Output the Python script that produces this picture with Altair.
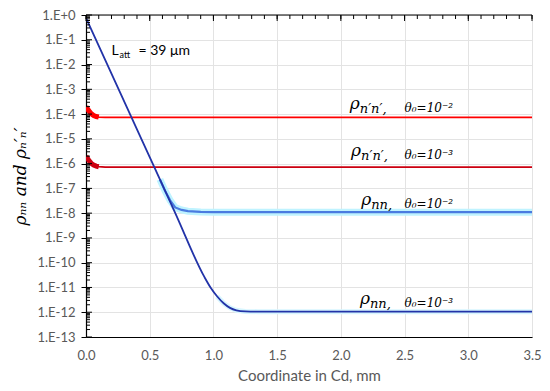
import altair as alt
import pandas as pd

# ---- data ----
# rho_nn, theta0 = 1e-3 (dark blue, incl. the exponential attenuation)
x_nn3 = [0.0, 0.357, 0.536, 0.697, 0.93, 0.98, 1.03, 1.08, 1.13, 1.18, 1.25, 1.35, 3.5]
y_nn3 = [0.76, 7.4e-5, 7.2e-7, 1.1e-8, 2.6e-11, 9.5e-12, 4.3e-12, 2.3e-12, 1.5e-12, 1.2e-12, 1.08e-12, 1.05e-12, 1.05e-12]
# rho_nn, theta0 = 1e-2 (light blue)
x_nn2 = [0.58, 0.62, 0.66, 0.70, 0.75, 0.80, 0.90, 1.0, 3.5]
y_nn2 = [2.3e-7, 8.1e-8, 3.3e-8, 1.7e-8, 1.35e-8, 1.2e-8, 1.12e-8, 1.1e-8, 1.1e-8]
# rho_n'n', theta0 = 1e-2 (red)
x_pp2 = [0.0, 0.02, 0.04, 0.06, 0.08, 0.10, 0.15, 3.5]
y_pp2 = [2.0e-4, 1.4e-4, 1.05e-4, 8.8e-5, 8.0e-5, 7.6e-5, 7.4e-5, 7.4e-5]
# rho_n'n', theta0 = 1e-3 (dark red)
x_pp3 = [0.0, 0.02, 0.04, 0.06, 0.08, 0.10, 0.15, 3.5]
y_pp3 = [2.0e-6, 1.4e-6, 1.05e-6, 8.7e-7, 7.9e-7, 7.5e-7, 7.2e-7, 7.2e-7]

# axis ticks
x_ticks = [0.0, 0.5, 1.0, 1.5, 2.0, 2.5, 3.0, 3.5]
x_minor = [i / 10 for i in range(36)]
y_major = [10.0 ** (-k) for k in range(14)]
y_minor = [m * 10.0 ** (-k) for k in range(1, 14) for m in range(2, 10)]

# annotation labels
lab_rho_x = [2.07, 2.08, 2.16, 2.15]
lab_theta_x = [2.50, 2.50, 2.50, 2.50]
lab_y = [2.5e-4, 3.2e-6, 3.4e-8, 3.5e-12]
lab_sub = ["n′n′,", "n′n′,", "nn,", "nn,"]
lab_theta = ["θ₀=10⁻²", "θ₀=10⁻³", "θ₀=10⁻²", "θ₀=10⁻³"]

W, H = 446, 322
XD, YD = [0, 3.5], [1e-13, 1]

df_nn3 = pd.DataFrame({"x": x_nn3, "y": y_nn3})
df_nn2 = pd.DataFrame({"x": x_nn2, "y": y_nn2})
df_pp2 = pd.DataFrame({"x": x_pp2, "y": y_pp2})
df_pp3 = pd.DataFrame({"x": x_pp3, "y": y_pp3})
df_lab = pd.DataFrame({"xr": lab_rho_x, "xt": lab_theta_x, "y": lab_y,
                       "sub": lab_sub, "theta": lab_theta})

xsc = alt.Scale(domain=XD, nice=False, zero=False)
ysc = alt.Scale(type="log", domain=YD, nice=False)

x_axis = alt.Axis(values=x_ticks, format=".1f", ticks=False, domainColor="#000000",
                  domainWidth=1.2, grid=True, gridColor="#e3e3e3", labelColor="#595959",
                  labelFont="Lato", labelFontSize=13, labelPadding=12, labelFlush=False,
                  title="Coordinate in Cd, mm", titleFont="Lato", titleFontSize=15,
                  titleFontWeight="normal", titleColor="#595959", titlePadding=6)
y_axis = alt.Axis(values=y_major,
                  labelExpr="datum.value >= 0.5 ? '1.E+0' : '1.E-' + round(-log(datum.value)/LN10)",
                  tickSize=5, tickColor="#000000", domainColor="#000000", domainWidth=1.2,
                  grid=True, gridColor="#e3e3e3", labelColor="#595959", labelFont="Lato",
                  labelFontSize=13, labelPadding=6, labelFlush=False,
                  title="ρₙₙ and ρₙ′ₙ′", titleFont="DejaVu Serif", titleFontStyle="italic",
                  titleFontWeight="normal", titleFontSize=17, titleColor="#000000",
                  titlePadding=7)


def X(f="x", axis=None):
    if axis is None:
        return alt.X(f"{f}:Q", scale=xsc, title="Coordinate in Cd, mm")
    return alt.X(f"{f}:Q", scale=xsc, axis=axis)


def Y(f="y", axis=None):
    if axis is None:
        return alt.Y(f"{f}:Q", scale=ysc, title="ρₙₙ and ρₙ′ₙ′")
    return alt.Y(f"{f}:Q", scale=ysc, axis=axis)


base = alt.Chart(df_pp2).mark_line(color="#ff0000", strokeWidth=1.8, clip=True).encode(
    x=X(axis=x_axis), y=Y(axis=y_axis))
pp2_thick = alt.Chart(df_pp2).transform_filter("datum.x <= 0.12").mark_line(
    color="#ff0000", strokeWidth=5, clip=True).encode(x=X(), y=Y())
pp3 = alt.Chart(df_pp3).mark_line(color="#cc0010", strokeWidth=1.8, clip=True).encode(x=X(), y=Y())
pp3_thick = alt.Chart(df_pp3).transform_filter("datum.x <= 0.12").mark_line(
    color="#cc0010", strokeWidth=5, clip=True).encode(x=X(), y=Y())

nn2_halo = alt.Chart(df_nn2).mark_line(color="#bff3ff", strokeWidth=7, clip=True).encode(x=X(), y=Y())
nn2 = alt.Chart(df_nn2).mark_line(color="#4a7be0", strokeWidth=2.2, clip=True).encode(x=X(), y=Y())
nn3_halo = alt.Chart(df_nn3).transform_filter("datum.x >= 1.0").mark_line(
    color="#d8f6ff", strokeWidth=5, clip=True).encode(x=X(), y=Y())
nn3 = alt.Chart(df_nn3).mark_line(color="#2233a8", strokeWidth=1.8, clip=True,
                                  interpolate="monotone").encode(x=X(), y=Y())

# tick marks drawn through the scales
ytick_minor = alt.Chart(pd.DataFrame({"y": y_minor})).mark_rule(color="#000000", strokeWidth=1).encode(
    y=Y(), x=alt.value(0), x2=alt.value(4))
ytick_major = alt.Chart(pd.DataFrame({"y": y_major})).mark_rule(color="#000000", strokeWidth=1).encode(
    y=Y(), x=alt.value(0), x2=alt.value(6))
xtick_minor = alt.Chart(pd.DataFrame({"x": x_minor})).mark_rule(color="#000000", strokeWidth=1).encode(
    x=X(), y=alt.value(0), y2=alt.value(4))
xtick_major = alt.Chart(pd.DataFrame({"x": x_ticks})).mark_rule(color="#000000", strokeWidth=1).encode(
    x=X(), y=alt.value(0), y2=alt.value(6))
top_line = alt.Chart(pd.DataFrame({"x": [0.0]})).mark_rule(color="#000000", strokeWidth=1.2).encode(
    y=alt.value(0), x=alt.value(0), x2=alt.value(W))

# labels
rho = alt.Chart(df_lab).mark_text(font="DejaVu Serif", fontStyle="italic", fontSize=17,
                                  align="left", baseline="middle", color="#000000").encode(
    x=X("xr"), y=Y(), text=alt.value("ρ"))
sub = alt.Chart(df_lab).mark_text(font="DejaVu Serif", fontStyle="italic", fontSize=13,
                                  align="left", baseline="middle", dx=10, dy=5, color="#000000").encode(
    x=X("xr"), y=Y(), text="sub:N")
theta = alt.Chart(df_lab).mark_text(font="DejaVu Serif", fontStyle="italic", fontSize=12,
                                    align="left", baseline="middle", dy=4, color="#000000").encode(
    x=X("xt"), y=Y(), text="theta:N")

latt_df = pd.DataFrame({"x": [0.2], "y": [3.6e-2]})
latt_L = alt.Chart(latt_df).mark_text(font="Lato", fontSize=14, align="left", baseline="middle",
                                      color="#000000").encode(x=X(), y=Y(), text=alt.value("L"))
latt_sub = alt.Chart(latt_df).mark_text(font="Lato", fontSize=9, align="left", baseline="middle",
                                        dx=8, dy=4, color="#000000").encode(x=X(), y=Y(), text=alt.value("att"))
latt_rest = alt.Chart(latt_df).mark_text(font="Lato", fontSize=14, align="left", baseline="middle",
                                         dx=27, color="#000000").encode(x=X(), y=Y(), text=alt.value("= 39 μm"))

chart = alt.layer(
    base, pp2_thick, pp3, pp3_thick, nn2_halo, nn2, nn3_halo, nn3,
    ytick_minor, ytick_major, xtick_minor, xtick_major, top_line,
    rho, sub, theta, latt_L, latt_sub, latt_rest,
).properties(
    width=W, height=H,
    autosize=alt.AutoSizeParams(type="none"),
    padding={"left": 78, "top": 7, "right": 10, "bottom": 46},
).configure_view(stroke="#595959", strokeWidth=1.5).configure(background="#ffffff")

chart.save("out.html", embed_options={"renderer": "svg", "actions": False})
